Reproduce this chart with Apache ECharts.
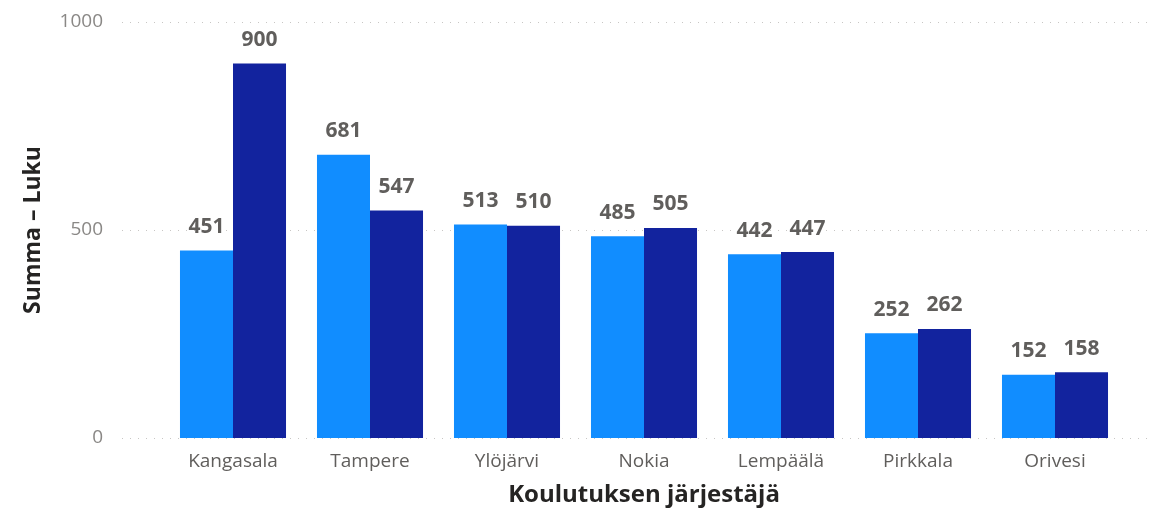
<!DOCTYPE html>
<html>
<head>
<meta charset="utf-8">
<script src="https://cdn.jsdelivr.net/npm/echarts@6/dist/echarts.min.js"></script>
<style>
html,body{margin:0;padding:0;background:#fff;}
#chart{width:1153px;height:509px;}
</style>
</head>
<body>
<div id="chart"></div>
<script>
// data
var categories = ['Kangasala', 'Tampere', 'Ylöjärvi', 'Nokia', 'Lempäälä', 'Pirkkala', 'Orivesi'];
var seriesA = [451, 681, 513, 485, 442, 252, 152];
var seriesB = [900, 547, 510, 505, 447, 262, 158];
var yTicks = [0, 500, 1000];

var FONT = 'Open Sans';
var chart = echarts.init(document.getElementById('chart'));

var labelStyle = {
    show: true,
    position: 'top',
    distance: 13,
    color: '#605E5C',
    fontFamily: FONT,
    fontWeight: 'bold',
    fontSize: 21
};

var option = {
    animation: false,
    backgroundColor: '#fff',
    grid: [
        {left: 164.5, right: 29.5, top: 22, bottom: 71, outerBoundsMode: 'none', containLabel: false},//柱子
        {left: 122, right: 0, top: 22, bottom: 71, outerBoundsMode: 'none', containLabel: false}//网格线
    ],
    xAxis: [
        {
            type: 'category',
            gridIndex: 0,
            data: categories,
            axisLine: {show: false},
            axisTick: {show: false},
            axisLabel: {color: '#605E5C', fontFamily: FONT, fontSize: 19, margin: 14},
            name: 'Koulutuksen järjestäjä',
            nameLocation: 'middle',
            nameGap: 45,
            nameTextStyle: {color: '#252423', fontFamily: FONT, fontWeight: 'bold', fontSize: 24}
        },
        {type: 'value', gridIndex: 1, show: false, min: 0, max: 1}
    ],
    yAxis: [
        {type: 'value', gridIndex: 0, min: 0, max: 1000, show: false},
        {
            type: 'value',
            gridIndex: 1,
            min: yTicks[0],
            max: yTicks[yTicks.length - 1],
            interval: 500,
            axisLine: {show: false},
            axisTick: {show: false},
            axisLabel: {color: '#8A8886', fontFamily: FONT, fontSize: 19, margin: 19, formatter: function(v){ return String(v); }},
            splitLine: {lineStyle: {color: '#C8C6C4', type: [1, 7], width: 1}},
            name: 'Summa – Luku',
            nameLocation: 'middle',
            nameGap: 77,
            nameTextStyle: {color: '#252423', fontFamily: FONT, fontWeight: 'bold', fontSize: 23}
        }
    ],
    series: [
        {
            type: 'bar',
            xAxisIndex: 0,
            yAxisIndex: 0,
            data: seriesA,
            itemStyle: {color: '#118DFF'},
            barGap: '0%',
            barCategoryGap: '22.6%',
            label: labelStyle
        },
        {
            type: 'bar',
            xAxisIndex: 0,
            yAxisIndex: 0,
            data: seriesB,
            itemStyle: {color: '#12239E'},
            label: labelStyle
        }
    ]
};
chart.setOption(option);
</script>
</body>
</html>
